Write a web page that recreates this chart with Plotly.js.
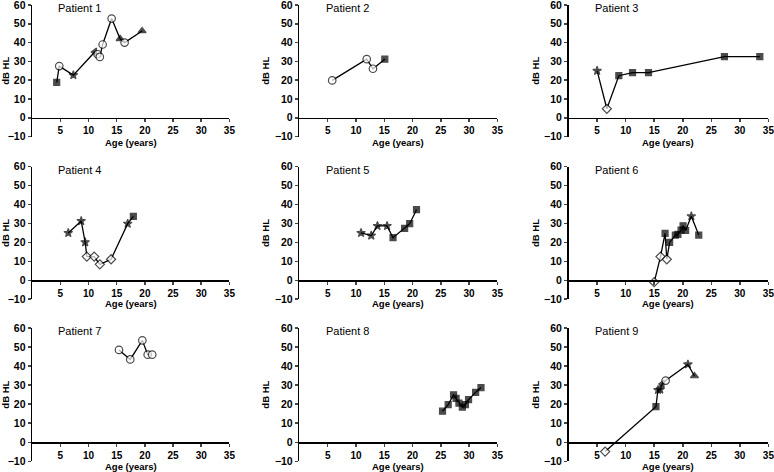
<!DOCTYPE html>
<html>
<head>
<meta charset="utf-8">
<script src="https://cdn.plot.ly/plotly-3.0.1.min.js"></script>
<style>html,body{margin:0;padding:0;background:#fff;}#chart{width:774px;height:472px;}</style>
</head>
<body>
<div id="chart"></div>
<script>
// Marker type codes: sq = filled square, ci = open circle, as = asterisk,
// tr = filled triangle, tl = left triangle, di = open diamond
const patientNames = ["Patient 1","Patient 2","Patient 3","Patient 4","Patient 5","Patient 6","Patient 7","Patient 8","Patient 9"];
const xTitle = "Age (years)";
const yTitle = "dB HL";

const p1Age  = [4.35, 4.8, 7.3, 11.1, 11.6, 12.0, 12.5, 14.1, 15.6, 16.4, 19.5];
const p1HL   = [18.8, 27.5, 22.7, 35.0, 33.8, 32.4, 39.0, 52.8, 42.0, 40.0, 46.2];
const p1Type = ["sq","ci","as","tl","ci","ci","ci","ci","tr","ci","tr"];

const p2Age  = [5.8, 11.9, 13.0, 15.1];
const p2HL   = [19.9, 31.2, 26.1, 31.2];
const p2Type = ["ci","ci","ci","sq"];

const p3Age  = [5.0, 6.7, 8.8, 11.2, 14.0, 27.3, 33.5];
const p3HL   = [25.0, 4.8, 22.4, 24.0, 24.0, 32.5, 32.5];
const p3Type = ["as","di","sq","sq","sq","sq","sq"];

const p4Age  = [6.4, 8.7, 9.4, 9.7, 11.0, 12.0, 14.0, 16.95, 17.95];
const p4HL   = [25.0, 31.3, 20.1, 12.5, 12.5, 8.4, 11.1, 29.9, 33.8];
const p4Type = ["as","as","as","di","di","di","di","as","sq"];

const p5Age  = [10.9, 12.7, 13.8, 15.5, 16.55, 18.6, 19.5, 20.7];
const p5HL   = [25.0, 23.6, 28.7, 28.7, 22.5, 27.4, 29.9, 37.3];
const p5Type = ["as","as","as","as","sq","sq","sq","sq"];

const p6Age  = [15.0, 16.1, 16.9, 17.2, 17.7, 18.7, 19.15, 19.7, 20.05, 20.5, 21.5, 22.8];
const p6HL   = [-1.0, 12.5, 24.8, 11.1, 20.0, 23.9, 24.2, 26.5, 28.8, 26.3, 33.8, 23.9];
const p6Type = ["di","di","sq","di","sq","sq","sq","sq","sq","sq","as","sq"];

const p7Age  = [15.4, 17.4, 19.55, 20.5, 21.3];
const p7HL   = [48.5, 43.5, 53.5, 46.0, 46.0];
const p7Type = ["ci","ci","ci","ci","ci"];

const p8Age  = [25.3, 26.3, 27.25, 27.7, 28.2, 28.8, 29.35, 29.9, 31.15, 32.1];
const p8HL   = [16.3, 19.8, 24.9, 23.0, 20.6, 18.5, 19.8, 22.4, 26.2, 28.7];
const p8Type = ["sq","sq","sq","sq","sq","sq","sq","sq","sq","sq"];

const p9Age  = [6.4, 15.3, 15.65, 16.05, 16.4, 17.0, 20.9, 22.05];
const p9HL   = [-4.9, 18.7, 27.5, 27.7, 30.6, 32.4, 40.9, 34.8];
const p9Type = ["di","sq","as","as","tl","ci","as","tr"];

const xTickVals = [5, 10, 15, 20, 25, 30, 35];
const yTickVals = [-10, 0, 10, 20, 30, 40, 50, 60];

const allAges  = [p1Age, p2Age, p3Age, p4Age, p5Age, p6Age, p7Age, p8Age, p9Age];
const allHL    = [p1HL, p2HL, p3HL, p4HL, p5HL, p6HL, p7HL, p8HL, p9HL];
const allTypes = [p1Type, p2Type, p3Type, p4Type, p5Type, p6Type, p7Type, p8Type, p9Type];

const symbolStyle = {
  sq: {symbol: "square", color: "#000", size: 6},
  ci: {symbol: "circle", color: "#fff", size: 7.5},
  as: {symbol: "star", color: "#000", size: 6.5},
  tr: {symbol: "triangle-up", color: "#000", size: 7},
  tl: {symbol: "triangle-left", color: "#000", size: 7},
  di: {symbol: "diamond", color: "#fff", size: 7}
};

// panel geometry (pixels)
const W = 774, H = 472;
const colPx = [[32.2, 229.4], [299.4, 497.4], [568.6, 768.4]];
const rowPx = [[5, 136.6], [166.7, 299.2], [328, 461.3]];
const xTitleRowPx = [142, 303.5, 466.5];

const font = "Liberation Sans, Arial, Helvetica, sans-serif";
const traces = [];
const layout = {
  width: W, height: H,
  margin: {l: 0, r: 0, t: 0, b: 0},
  paper_bgcolor: "#fff", plot_bgcolor: "rgba(0,0,0,0)",
  showlegend: false,
  font: {family: font, color: "#000"},
  annotations: []
};

for (let i = 0; i < 9; i++) {
  const r = Math.floor(i / 3), c = i % 3;
  const n = i + 1;
  const xs = n === 1 ? "" : String(n);
  const types = allTypes[i];
  traces.push({
    type: "scatter", mode: "lines+markers",
    x: allAges[i], y: allHL[i],
    xaxis: "x" + xs, yaxis: "y" + xs,
    cliponaxis: false,
    line: {color: "#000", width: 1.3},
    marker: {
      symbol: types.map(t => symbolStyle[t].symbol),
      color: types.map(t => symbolStyle[t].color),
      size: types.map(t => symbolStyle[t].size),
      line: {color: "#000", width: 1.2}
    },
    hoverinfo: "x+y"
  });
  const xd = [colPx[c][0] / W, colPx[c][1] / W];
  const yd = [1 - rowPx[r][1] / H, 1 - rowPx[r][0] / H];
  const zeroPos = yd[0] + (yd[1] - yd[0]) * 10 / 70;
  layout["xaxis" + xs] = {
    domain: xd, range: [0, 35], anchor: "free", position: zeroPos,
    tickvals: xTickVals, ticks: "outside", ticklen: 3, tickwidth: 1.5,
    showline: true, linewidth: 1.6, linecolor: "#000", showgrid: false, zeroline: false,
    ticklabeloverflow: "allow",
    tickfont: {family: font, size: 10, weight: "bold", color: "#000"},
    fixedrange: true
  };
  layout["yaxis" + xs] = {
    domain: yd, range: [-10, 60], anchor: "x" + xs,
    tickvals: yTickVals, ticks: "outside", ticklen: 3, tickwidth: 1.5,
    showline: true, linewidth: 1.6, linecolor: "#000", showgrid: false, zeroline: false,
    ticklabeloverflow: "allow",
    tickfont: {family: font, size: 10.5, weight: "bold", color: "#000"},
    title: {text: yTitle, font: {family: font, size: 9.5, weight: "bold", color: "#000"}, standoff: 3},
    fixedrange: true
  };
  layout.annotations.push({
    text: patientNames[i], xref: "x" + xs, yref: "y" + xs, x: 4.3, y: 58.5,
    xanchor: "left", yanchor: "middle", showarrow: false,
    font: {family: font, size: 11, color: "#000"}
  });
  layout.annotations.push({
    text: xTitle, xref: "paper", yref: "paper",
    x: (xd[0] + xd[1]) / 2, y: 1 - xTitleRowPx[r] / H,
    xanchor: "center", yanchor: "middle", showarrow: false, borderpad: 0,
    font: {family: font, size: 9.5, weight: "bold", color: "#000"}
  });
}

Plotly.newPlot("chart", traces, layout, {displayModeBar: false, staticPlot: true});
</script>
</body>
</html>
